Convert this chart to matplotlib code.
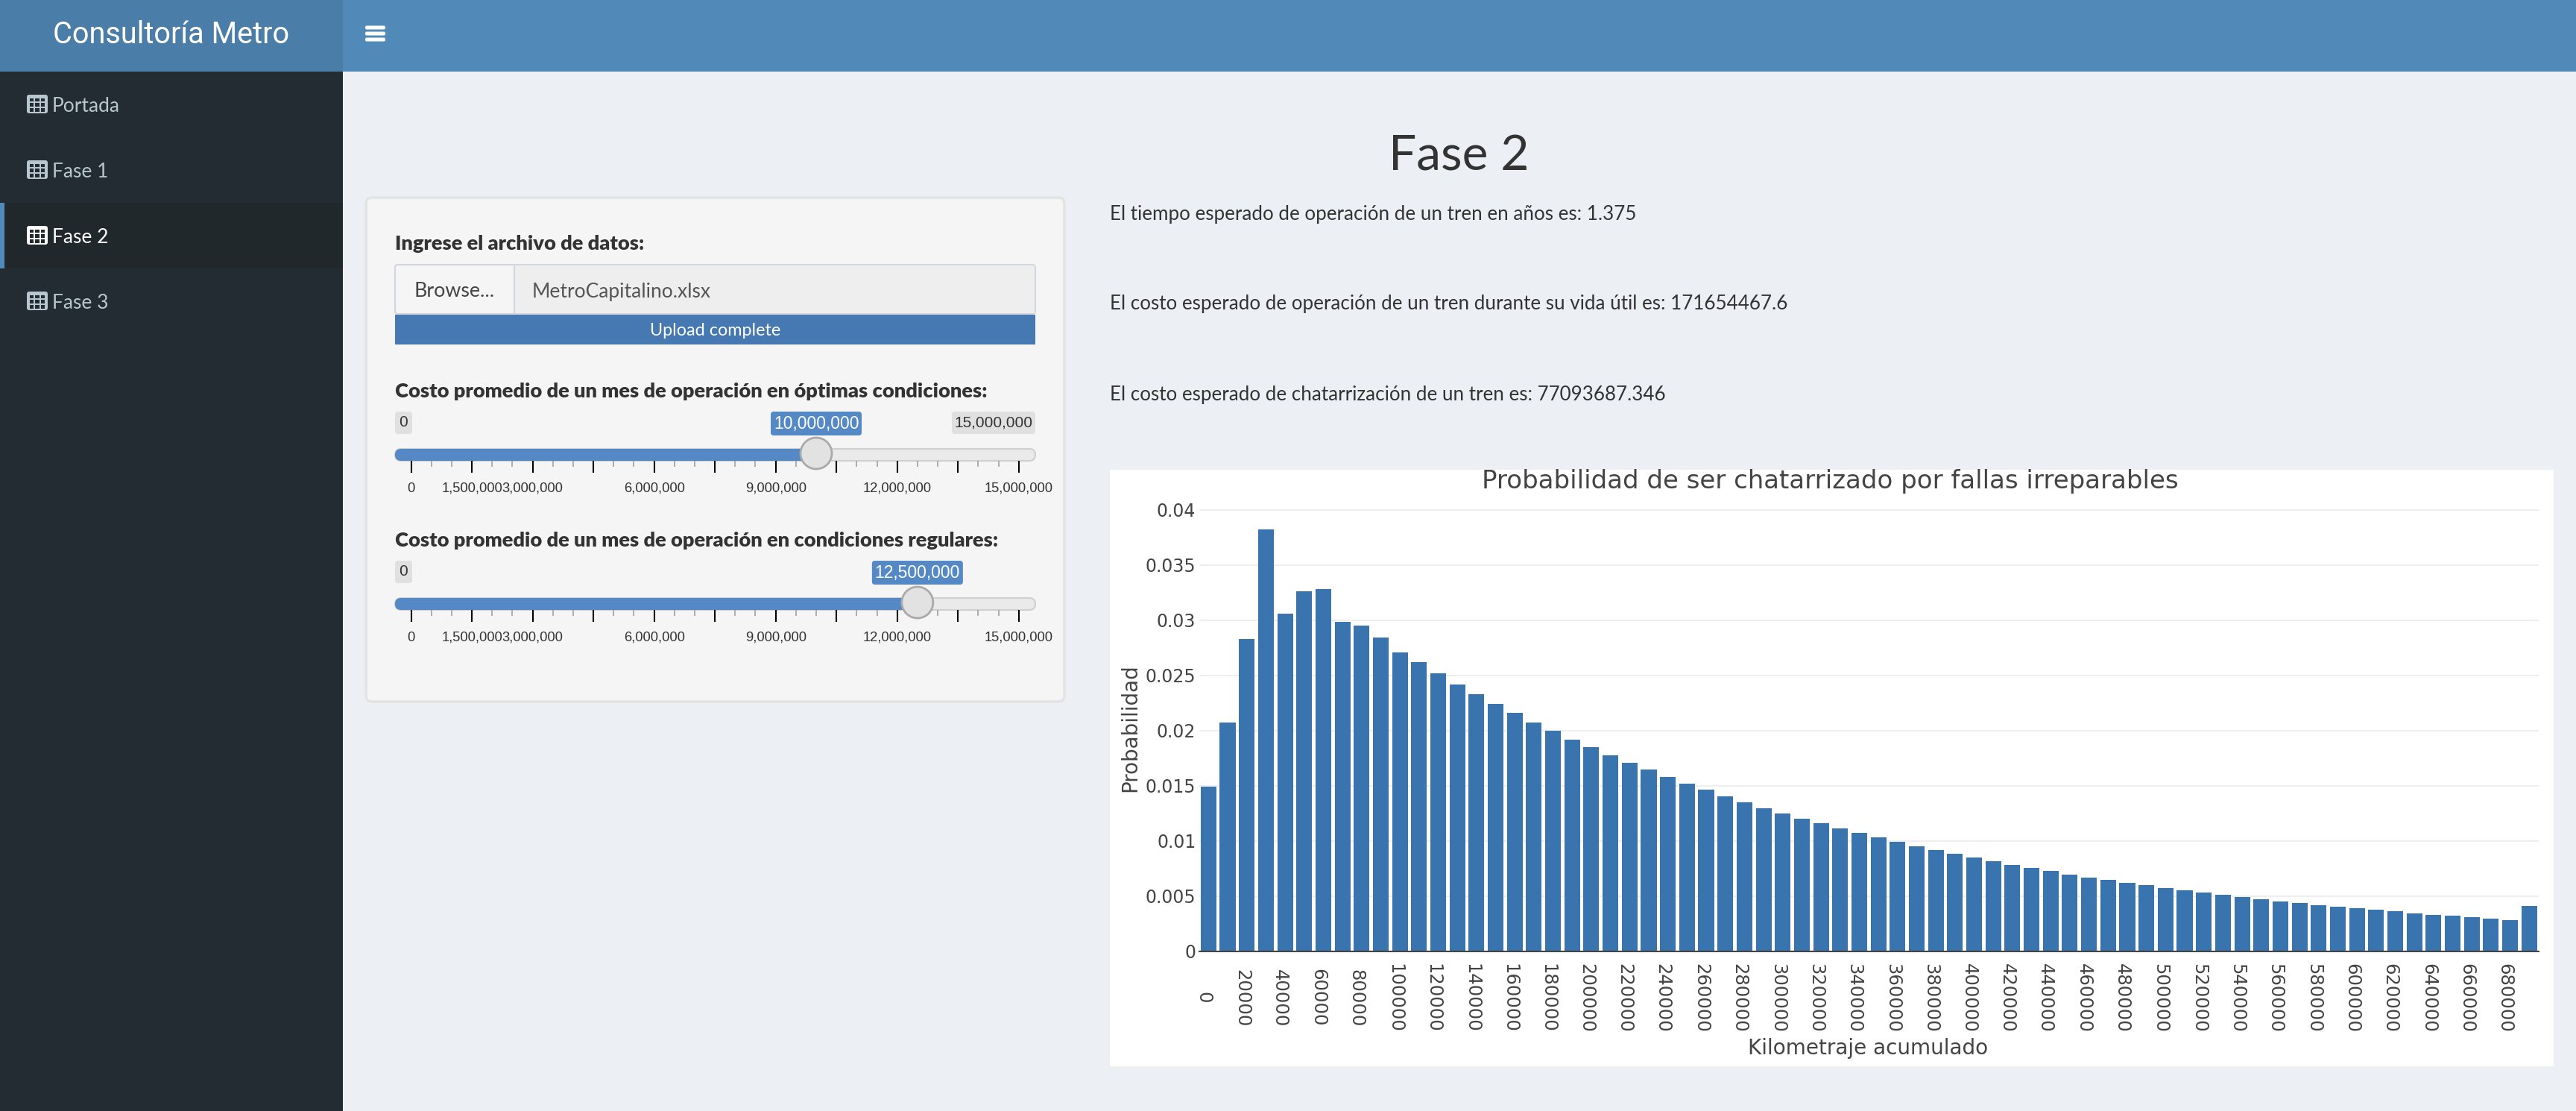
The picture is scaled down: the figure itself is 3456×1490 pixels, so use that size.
import matplotlib
matplotlib.use("Agg")
import matplotlib.pyplot as plt
from matplotlib.patches import Rectangle, FancyBboxPatch, Circle
from matplotlib.transforms import ScaledTranslation

# ---- data ----
km = [i * 10000 for i in range(70)]
prob = [0.01494, 0.02069, 0.02828, 0.03824, 0.03062, 0.03261, 0.03279, 0.02986, 0.0295, 0.02845,
        0.02708, 0.0262, 0.0252, 0.0242, 0.02332, 0.02242, 0.02157, 0.02072, 0.01996, 0.01916,
        0.01846, 0.01776, 0.01708, 0.01644, 0.01579, 0.01518, 0.01462, 0.01404, 0.01351, 0.01298,
        0.01248, 0.01201, 0.01157, 0.01113, 0.01071, 0.01029, 0.00989, 0.00952, 0.00915, 0.00882,
        0.00847, 0.00815, 0.00782, 0.00752, 0.00726, 0.00696, 0.0067, 0.00645, 0.00619, 0.00598,
        0.00573, 0.00549, 0.00531, 0.0051, 0.00489, 0.0047, 0.00454, 0.00435, 0.00419, 0.00403,
        0.00389, 0.00375, 0.00361, 0.00345, 0.00331, 0.00319, 0.00307, 0.00296, 0.00284, 0.00412]
x_ticks = list(range(0, 690000, 20000))
y_ticks = [0, 0.005, 0.01, 0.015, 0.02, 0.025, 0.03, 0.035, 0.04]
y_labels = ["0", "0.005", "0.01", "0.015", "0.02", "0.025", "0.03", "0.035", "0.04"]

menu_items = ["Portada", "Fase 1", "Fase 2", "Fase 3"]
active_item = "Fase 2"
info_lines = ["El tiempo esperado de operación de un tren en años es: 1.375",
              "El costo esperado de operación de un tren durante su vida útil es: 171654467.6",
              "El costo esperado de chatarrización de un tren es: 77093687.346"]
slider_labels = ["Costo promedio de un mes de operación en óptimas condiciones:",
                 "Costo promedio de un mes de operación en condiciones regulares:"]
slider_values = [10000000, 12500000]
slider_max = 15000000
slider_major = [0, 1500000, 3000000, 4500000, 6000000, 7500000, 9000000, 10500000, 12000000, 13500000, 15000000]
slider_labeled = [0, 1500000, 3000000, 6000000, 9000000, 12000000, 15000000]

UI = "Lato"
W, H = 3456, 1490
fig = plt.figure(figsize=(W / 100, H / 100), dpi=100, facecolor="#ecf0f5")
ui = fig.add_axes([0, 0, 1, 1], zorder=0)
ui.set_xlim(0, W); ui.set_ylim(H, 0); ui.axis("off")


def rect(x0, y0, x1, y1, color, **kw):
    ui.add_patch(Rectangle((x0, y0), x1 - x0, y1 - y0, facecolor=color, edgecolor="none", **kw))


def rrect(x0, y0, x1, y1, color, r=5, ec="none", lw=0, **kw):
    ui.add_patch(FancyBboxPatch((x0 + r, y0 + r), x1 - x0 - 2 * r, y1 - y0 - 2 * r,
                                boxstyle=f"round,pad={r},rounding_size={r}",
                                facecolor=color, edgecolor=ec, linewidth=lw, **kw))


# header / sidebar
rect(0, 96, 460, H, "#232c33")
rect(0, 0, 460, 96, "#4a7da8")
rect(460, 0, W, 96, "#5189b8")
ui.text(230, 47, "Consultoría Metro", color="white", ha="center", va="center",
        family="Roboto", fontsize=28.5)
for yc in (37, 45, 53):
    rrect(490, yc - 2.5, 517, yc + 2.5, "white", r=2)

for i, item in enumerate(menu_items):
    yc = 140 + 88 * i
    on = item == active_item
    col = "white" if on else "#b8c7ce"
    bg = "#20282b" if on else "#232c33"
    if on:
        rect(0, yc - 44, 460, yc + 44, bg)
        rect(0, yc - 44, 6, yc + 44, "#5189b8")
    rrect(36, yc - 13, 64, yc + 12, col, r=3)
    for r_ in range(3):
        for c_ in range(3):
            cx0 = 39.5 + c_ * 7.6
            cy0 = yc - 8.5 + r_ * 6.8
            rect(cx0, cy0, cx0 + 5.6, cy0 + 4.8, bg)
    ui.text(70, yc + 3, item, color=col, ha="left", va="center", family=UI, fontsize=19)

# page text
ui.text(1957, 210, "Fase 2", color="#333333", ha="center", va="center", family=UI, fontsize=47.5)
for yc, line in zip((287, 408, 530), info_lines):
    ui.text(1489, yc, line, color="#333333", ha="left", va="center", family=UI, fontsize=18.75)

# well
rrect(491, 265, 1428, 941, "#f5f5f5", r=8, ec="#e3e3e3", lw=2.5)
ui.text(530, 327, "Ingrese el archivo de datos:", color="#333333", ha="left", va="center",
        family=UI, fontweight="heavy", fontsize=19.65)
rrect(530, 355, 1389, 421, "#f5f5f5", r=4, ec="#d2d6de", lw=1.5)
rect(690, 356, 1388, 420, "#eeeeee")
ui.plot([689.5, 689.5], [355, 421], color="#d2d6de", lw=1.5)
ui.text(610, 391, "Browse...", color="#444444", ha="center", va="center", family=UI, fontsize=19.3)
ui.text(714, 391, "MetroCapitalino.xlsx", color="#555555", ha="left", va="center", family=UI, fontsize=19)
rect(530, 422, 1389, 462, "#4678b2")
ui.text(959.5, 444, "Upload complete", color="white", ha="center", va="center", family=UI, fontsize=16.8)

# sliders
def sx(v):
    return 551.6 + v / slider_max * 815.1


BLUE = "#5589c6"
for k, (lab, val) in enumerate(zip(slider_labels, slider_values)):
    dy = 200 * k
    ui.text(530, 525 + dy, lab, color="#333333", ha="left", va="center", family=UI,
            fontweight="heavy", fontsize=19.65)
    # min / max badges
    rrect(530, 552 + dy, 553, 582 + dy, "#e0e0e0", r=4)
    ui.text(541.5, 567 + dy, "0", color="#333333", ha="center", va="center",
            family="Liberation Sans", fontsize=15)
    if k == 0 or sx(val) < 1200:
        rrect(1277, 552 + dy, 1389, 582 + dy, "#e0e0e0", r=4)
        ui.text(1333, 567 + dy, f"{slider_max:,}", color="#333333", ha="center", va="center",
                family="Liberation Sans", fontsize=15)
    # track
    rrect(530, 602 + dy, 1389, 618 + dy, "#eaeaea", r=8, ec="#cfcfcf", lw=1.5)
    rrect(530, 602 + dy, sx(val), 618 + dy, BLUE, r=8)
    # ticks
    for m in range(0, slider_max + 1, 500000):
        major = m in slider_major
        ui.plot([sx(m), sx(m)], [618 + dy, (634 if major else 626) + dy],
                color="#000000" if major else "#999999", lw=1.5 if major else 1.1, solid_capstyle="butt", zorder=1)
    for m in slider_labeled:
        ui.text(sx(m), 655 + dy, f"{m:,}", color="#333333", ha="center", va="center",
                family="Liberation Sans", fontsize=13.2)
    # value badge and handle
    rrect(sx(val) - 61, 552 + dy, sx(val) + 61, 584 + dy, BLUE, r=4)
    ui.text(sx(val), 568 + dy, f"{val:,}", color="white", ha="center", va="center",
            family="Liberation Sans", fontsize=16.5)
    ui.add_patch(Circle((sx(val), 608 + dy), 21, facecolor="#e2e2e2", edgecolor="#aaaaaa", linewidth=2, zorder=3))

# white chart panel
rect(1489, 630, 3426, 1430, "white")

# chart
L, R, Y0, Y04 = 1608.5, 3406.1, 1275.7, 683.7
ymax = 0.041
top = Y0 - (Y0 - Y04) * ymax / 0.04
ax = fig.add_axes([L / W, 1 - Y0 / H, (R - L) / W, (Y0 - top) / H], zorder=1)
ax.patch.set_alpha(0)
ax.bar(km, prob, width=8200, color="#3a74ae", zorder=2)
ax.set_xlim(-5000, 695000)
ax.set_ylim(0, ymax)
for s in ("top", "left", "right"):
    ax.spines[s].set_visible(False)
ax.spines["bottom"].set_color("#444444")
ax.spines["bottom"].set_linewidth(1.5)
ax.spines["bottom"].set_zorder(3)
ax.set_axisbelow(True)
ax.grid(axis="y", color="#eeeeee", linewidth=1.5)
ax.set_yticks(y_ticks, y_labels)
ax.set_xticks(x_ticks, [str(t) for t in x_ticks])
ax.tick_params(axis="y", length=0, pad=3, labelsize=17, labelcolor="#444444")
ax.tick_params(axis="x", length=0, pad=45, labelsize=17.5, labelcolor="#444444", labelrotation=-90)
shift = ScaledTranslation(-5 / 72, 0, fig.dpi_scale_trans)
for t in ax.get_xticklabels():
    t.set_va("center")
    t.set_ha("center")
    t.set_transform(t.get_transform() + shift)
ui.text(2506, 1406, "Kilometraje acumulado", color="#444444", ha="center", va="center", fontsize=20.1)
ui.text(1516, 976, "Probabilidad", color="#444444", ha="center", va="center", rotation=90, fontsize=20)
ui.text(2455, 646, "Probabilidad de ser chatarrizado por fallas irreparables", color="#444444",
        ha="center", va="center", fontsize=24.5)

fig.savefig("out.png", dpi=100, facecolor=fig.get_facecolor())
